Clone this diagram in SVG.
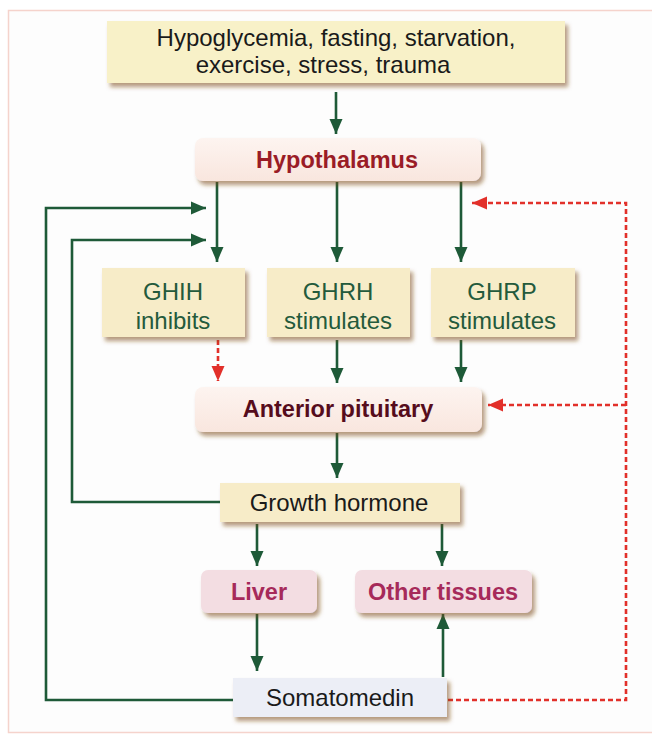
<svg xmlns="http://www.w3.org/2000/svg" width="652" height="735" viewBox="0 0 652 735">
<defs>
<filter id="sh" x="-10%" y="-20%" width="125%" height="160%">
<feDropShadow dx="3" dy="4" stdDeviation="2" flood-color="#7a4a10" flood-opacity="0.55"/>
</filter>
<marker id="ag" markerUnits="userSpaceOnUse" markerWidth="16" markerHeight="16" viewBox="0 0 16 16" refX="15" refY="8" orient="auto">
<path d="M0,1.5 L15,8 L0,14.5 Z" fill="#1e5a38"/>
</marker>
<marker id="ar" markerUnits="userSpaceOnUse" markerWidth="16" markerHeight="16" viewBox="0 0 16 16" refX="15" refY="8" orient="auto">
<path d="M0,1.5 L15,8 L0,14.5 Z" fill="#e2302a"/>
</marker>
<linearGradient id="gp" x1="0" y1="0" x2="0" y2="1">
<stop offset="0" stop-color="#fdf4f0"/>
<stop offset="1" stop-color="#f9e6de"/>
</linearGradient>
</defs>
<style>
.g{fill:none;stroke:#1e5a38;stroke-width:2.6;marker-end:url(#ag)}
.r{fill:none;stroke:#e2302a;stroke-width:2.6;stroke-dasharray:5 3;marker-end:url(#ar)}
.box{filter:url(#sh)}
.yel{fill:#f8f1c8}
.gh{fill:#f7ecc8}
.pk{fill:url(#gp)}
.lv{fill:#f3dde2}
.sm{fill:#eceef6}
text{font-family:"Liberation Sans",Arial,sans-serif;text-anchor:middle}
.t{font-size:24px;fill:#1a1a1a}
.tg{font-size:24px;fill:#245a3c}
.th{font-size:23.5px;font-weight:bold;fill:#9a1c26}
.ta{font-size:23.5px;font-weight:bold;fill:#560c1c}
.tl{font-size:23.5px;font-weight:bold;fill:#a62a5a}
</style>
<rect x="0" y="0" width="652" height="735" fill="#ffffff"/>
<rect x="8.5" y="10.5" width="660" height="722" fill="#fdfdfd" stroke="#f5d3cc" stroke-width="1.5"/>

<g id="connectors">
<path class="g" d="M336,92 V134"/>
<path class="g" d="M217,182 V262"/>
<path class="g" d="M337,182 V262"/>
<path class="g" d="M461,182 V262"/>
<path class="g" d="M233,700 H46 V208 H206"/>
<path class="g" d="M220,502 H72 V240 H206"/>
<path class="r" d="M218,340 V381"/>
<path class="g" d="M337,340 V383"/>
<path class="g" d="M461,340 V382"/>
<path class="g" d="M337,433 V478"/>
<path class="g" d="M257,524 V566"/>
<path class="g" d="M442,524 V566"/>
<path class="g" d="M257,614 V671"/>
<path class="g" d="M443,677 V614"/>
<path class="r" d="M448,700 H626 V203 H472"/>
<path class="r" d="M626,405 H488"/>
</g>

<g id="stimuli">
<rect class="box yel" x="107" y="21" width="458" height="62"/>
<text class="t" x="336" y="46">Hypoglycemia, fasting, starvation,</text>
<text class="t" x="323" y="73">exercise, stress, trauma</text>
</g>

<g id="hypothalamus">
<rect class="box pk" x="195" y="138" width="286" height="43" rx="8"/>
<text class="th" x="337" y="168">Hypothalamus</text>
</g>

<g id="ghih">
<rect class="box gh" x="102" y="268" width="143" height="69"/>
<text class="tg" x="173" y="300">GHIH</text>
<text class="tg" x="173" y="329">inhibits</text>
</g>

<g id="ghrh">
<rect class="box gh" x="267" y="268" width="143" height="69"/>
<text class="tg" x="338" y="300">GHRH</text>
<text class="tg" x="338" y="329">stimulates</text>
</g>

<g id="ghrp">
<rect class="box gh" x="431" y="268" width="144" height="69"/>
<text class="tg" x="502" y="300">GHRP</text>
<text class="tg" x="502" y="329">stimulates</text>
</g>

<g id="anterior-pituitary">
<rect class="box pk" x="195" y="387" width="287" height="45" rx="8"/>
<text class="ta" x="338" y="417">Anterior pituitary</text>
</g>

<g id="growth-hormone">
<rect class="box gh" x="220" y="483" width="240" height="39"/>
<text class="t" x="339" y="511">Growth hormone</text>
</g>

<g id="liver">
<rect class="box lv" x="201" y="570" width="116" height="43" rx="7"/>
<text class="tl" x="259" y="600">Liver</text>
</g>

<g id="other-tissues">
<rect class="box lv" x="355" y="570" width="177" height="43" rx="7"/>
<text class="tl" x="443" y="600">Other tissues</text>
</g>

<g id="somatomedin">
<rect class="box sm" x="233" y="678" width="214" height="39"/>
<text class="t" x="340" y="706">Somatomedin</text>
</g>
</svg>
